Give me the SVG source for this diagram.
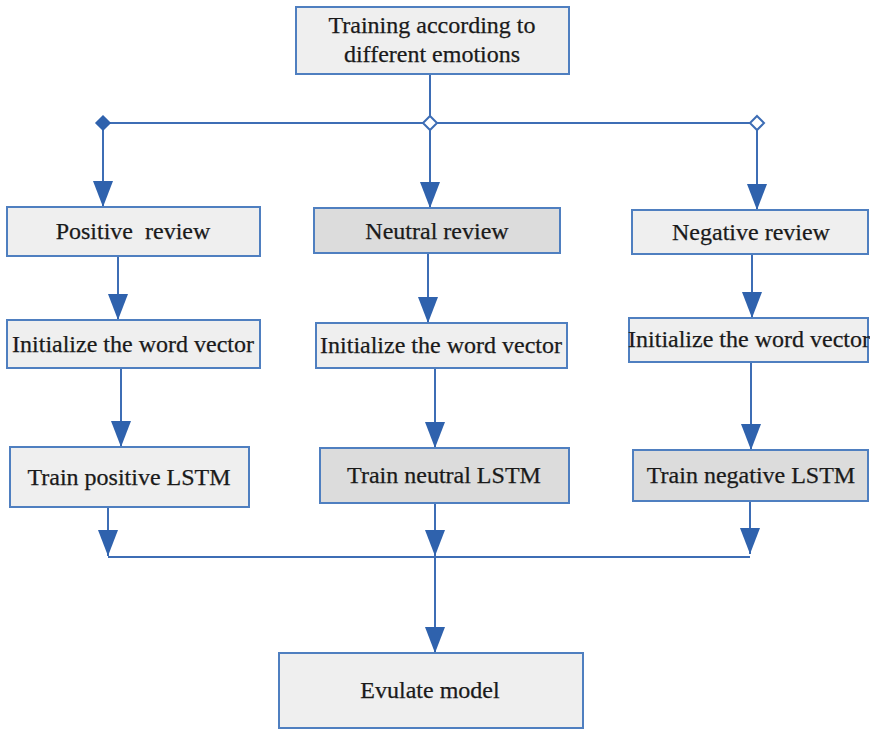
<svg xmlns="http://www.w3.org/2000/svg" width="870" height="731" viewBox="0 0 870 731">
<defs>
<marker id="ah" viewBox="0 0 26 20" refX="26" refY="10" markerWidth="26" markerHeight="20" markerUnits="userSpaceOnUse" orient="auto">
<path d="M0,0 L26,10 L0,20 z" fill="#2f62ad"/>
</marker>
<style>
.box{fill:#efefef;stroke:#4f7fc0;stroke-width:2}
.dark{fill:#dcdcdc}
.t{font-family:"Liberation Serif","Times New Roman",serif;font-size:24px;fill:#1a1a1a;stroke:#1a1a1a;stroke-width:0.25;text-anchor:middle}
.c{fill:none;stroke:#3d6db5;stroke-width:2}
.a{marker-end:url(#ah)}
</style>
</defs>
<rect width="870" height="731" fill="#ffffff"/>
<g id="connectors">
<path class="c" d="M430,74 V123"/>
<path class="c" d="M103,123 H757"/>
<path class="c a" d="M103,123 V207"/>
<path class="c a" d="M430,123 V208"/>
<path class="c a" d="M757,123 V210"/>
<path class="c a" d="M118,256 V320"/>
<path class="c a" d="M428,253 V323"/>
<path class="c a" d="M752,254 V318"/>
<path class="c a" d="M121,368 V447"/>
<path class="c a" d="M435,368 V448"/>
<path class="c a" d="M751,362 V450"/>
<path class="c a" d="M108,507 V556"/>
<path class="c a" d="M435,503 V556"/>
<path class="c a" d="M750,501 V554"/>
<path class="c" d="M108,557 H750"/>
<path class="c a" d="M435,557 V653"/>
<path d="M103,116 L110,123 L103,130 L96,123 z" fill="#2f62ad" stroke="#2f62ad" stroke-width="1.5"/>
<path d="M430,116 L437,123 L430,130 L423,123 z" fill="#ffffff" stroke="#3d6db5" stroke-width="2"/>
<path d="M757,116 L764,123 L757,130 L750,123 z" fill="#ffffff" stroke="#3d6db5" stroke-width="2"/>
</g>
<g id="top">
<rect class="box" x="296" y="7" width="273" height="67"/>
<text class="t" x="432" y="33">Training according to</text>
<text class="t" x="432" y="62">different emotions</text>
</g>
<g id="positive">
<rect class="box" x="7" y="207" width="253" height="49"/>
<text class="t" x="133" y="239" xml:space="preserve">Positive  review</text>
</g>
<g id="neutral">
<rect class="box dark" x="314" y="208" width="246" height="45"/>
<text class="t" x="437" y="239">Neutral review</text>
</g>
<g id="negative">
<rect class="box" x="632" y="210" width="236" height="44"/>
<text class="t" x="751" y="240">Negative review</text>
</g>
<g id="init1">
<rect class="box" x="7" y="320" width="253" height="48"/>
<text class="t" x="133" y="352">Initialize the word vector</text>
</g>
<g id="init2">
<rect class="box" x="316" y="323" width="251" height="45"/>
<text class="t" x="441" y="353">Initialize the word vector</text>
</g>
<g id="init3">
<rect class="box" x="629" y="318" width="239" height="44"/>
<text class="t" x="749" y="347">Initialize the word vector</text>
</g>
<g id="train1">
<rect class="box" x="10" y="447" width="239" height="60"/>
<text class="t" x="129" y="485">Train positive LSTM</text>
</g>
<g id="train2">
<rect class="box dark" x="320" y="448" width="249" height="55"/>
<text class="t" x="444" y="483">Train neutral LSTM</text>
</g>
<g id="train3">
<rect class="box dark" x="633" y="450" width="235" height="51"/>
<text class="t" x="751" y="483">Train negative LSTM</text>
</g>
<g id="evaluate">
<rect class="box" x="279" y="653" width="304" height="75"/>
<text class="t" x="430" y="698">Evulate model</text>
</g>
</svg>
